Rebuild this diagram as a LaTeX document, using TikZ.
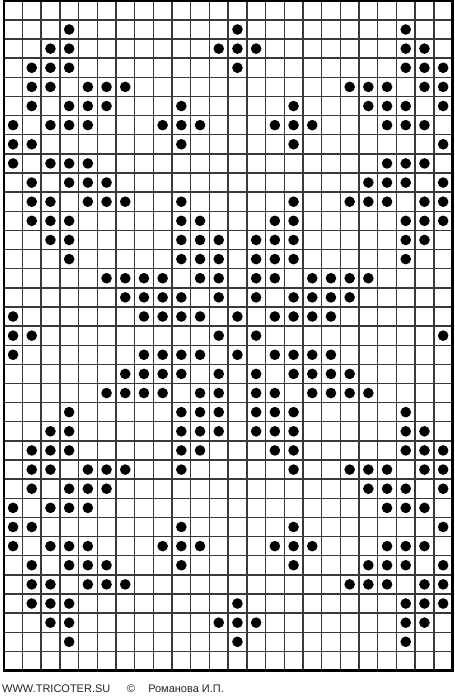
\documentclass[tikz,border=0pt]{standalone}
\usepackage{fontspec}
\newfontfamily\creditfont{Liberation Sans}
\usetikzlibrary{positioning}
\tikzset{
    gridline/.style={draw=black!78, line width=1.4pt},
    border/.style={draw=black, line width=2.2pt},
    stitch/.style={fill=black},
    credit/.style={font=\creditfont\fontsize{11}{13}\selectfont, text=black!85, inner sep=0pt}
}
\begin{document}
\begin{tikzpicture}[x=1pt, y=1pt]
    \useasboundingbox (0,0) rectangle (455,699);
    \begin{scope}[shift={(3.7,698.2)}, x=18.7pt, y=-19.134pt]
        \foreach \c in {0,...,24}
            \draw [gridline] (\c,0) -- (\c,35);
        \foreach \r in {0,...,35}
            \draw [gridline] (0,\r) -- (24,\r);
        \draw [border] (0,0) rectangle (24,35);

        \foreach \r/\cols in {
            1/{3,12,21},
            2/{2,3,11,12,13,21,22},
            3/{1,2,3,12,21,22,23},
            4/{1,2,4,5,6,18,19,20,22,23},
            5/{1,3,4,5,9,15,19,20,21,23},
            6/{0,2,3,4,8,9,10,14,15,16,20,21,22},
            7/{0,1,9,15,23},
            8/{0,2,3,4,20,21,22},
            9/{1,3,4,5,19,20,21,23},
            10/{1,2,4,5,6,9,15,18,19,20,22,23},
            11/{1,2,3,9,10,14,15,21,22,23},
            12/{2,3,9,10,11,13,14,15,21,22},
            13/{3,9,10,11,13,14,15,21},
            14/{5,6,7,8,10,11,13,14,16,17,18,19},
            15/{6,7,8,9,11,13,15,16,17,18},
            16/{0,7,8,9,10,12,14,15,16,17},
            17/{0,1,11,13,23},
            18/{0,7,8,9,10,12,14,15,16,17},
            19/{6,7,8,9,11,13,15,16,17,18},
            20/{5,6,7,8,10,11,13,14,16,17,18,19},
            21/{3,9,10,11,13,14,15,21},
            22/{2,3,9,10,11,13,14,15,21,22},
            23/{1,2,3,9,10,14,15,21,22,23},
            24/{1,2,4,5,6,9,15,18,19,20,22,23},
            25/{1,3,4,5,19,20,21,23},
            26/{0,2,3,4,20,21,22},
            27/{0,1,9,15,23},
            28/{0,2,3,4,8,9,10,14,15,16,20,21,22},
            29/{1,3,4,5,9,15,19,20,21,23},
            30/{1,2,4,5,6,18,19,20,22,23},
            31/{1,2,3,12,21,22,23},
            32/{2,3,11,12,13,21,22},
            33/{3,12,21}}
            \foreach \c in \cols
                \fill [stitch] (\c+0.5,\r+0.5) circle [radius=5.3pt];
    \end{scope}

    \node [credit, anchor=base west] (site) at (2,6.3) {WWW.TRICOTER.SU};
    \node [credit, base right=16pt of site] (copy) {©};
    \node [credit, base right=13pt of copy] (author) {Романова И.П.};
\end{tikzpicture}
\end{document}
